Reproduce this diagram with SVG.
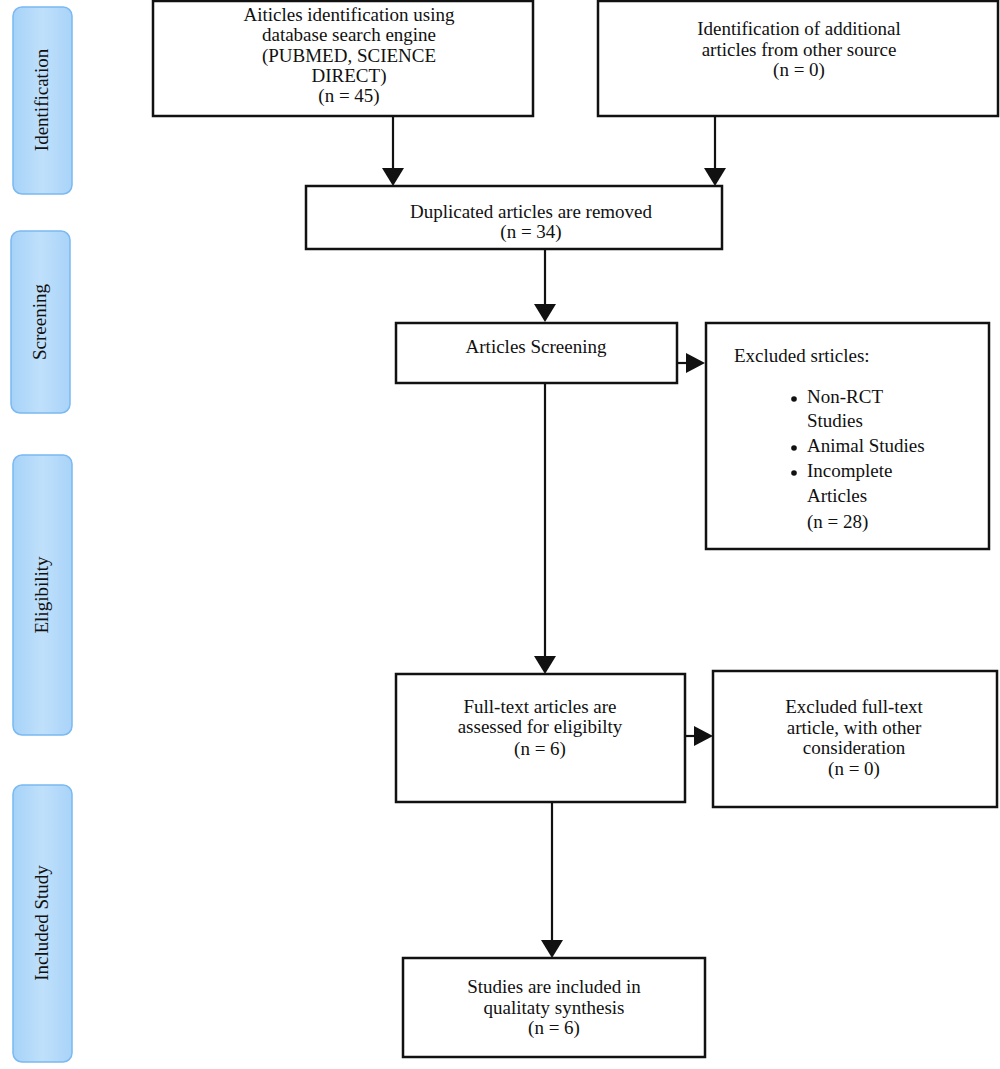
<svg xmlns="http://www.w3.org/2000/svg" width="1000" height="1069" viewBox="0 0 1000 1069">
<defs>
<linearGradient id="bar" x1="0" y1="0" x2="1" y2="0">
<stop offset="0" stop-color="#a6d2f8"/>
<stop offset="0.5" stop-color="#bfe0fb"/>
<stop offset="1" stop-color="#a9d3f8"/>
</linearGradient>
</defs>
<style>
.box{fill:#fff;stroke:#111;stroke-width:2.5}
.bar{fill:url(#bar);stroke:#7ab9f1;stroke-width:1.5}
text{font-family:"Liberation Serif","Times New Roman",serif;font-size:19px;fill:#111}
.c{text-anchor:middle}
.ln{stroke:#111;stroke-width:2.2;fill:none}
.ah{fill:#111}
</style>
<rect width="1000" height="1069" fill="#fff"/>
<g id="phase-identification">
<rect class="bar" x="13" y="7" width="59" height="187" rx="9"/>
<text class="c" transform="translate(48 100) rotate(-90)">Identification</text>
</g>
<g id="phase-screening">
<rect class="bar" x="11" y="231" width="59" height="182" rx="9"/>
<text class="c" transform="translate(46 322) rotate(-90)">Screening</text>
</g>
<g id="phase-eligibility">
<rect class="bar" x="13" y="455" width="59" height="280" rx="9"/>
<text class="c" transform="translate(48 595) rotate(-90)">Eligibility</text>
</g>
<g id="phase-included">
<rect class="bar" x="13" y="785" width="59" height="277" rx="9"/>
<text class="c" transform="translate(48 923) rotate(-90)">Included Study</text>
</g>
<g id="connectors">
<line class="ln" x1="393" y1="116" x2="393" y2="170"/>
<polygon class="ah" points="382,168 404,168 393,186"/>
<line class="ln" x1="715" y1="116" x2="715" y2="170"/>
<polygon class="ah" points="704,168 726,168 715,186"/>
<line class="ln" x1="545" y1="249" x2="545" y2="306"/>
<polygon class="ah" points="534,304 556,304 545,322"/>
<line class="ln" x1="545" y1="383" x2="545" y2="658"/>
<polygon class="ah" points="534,656 556,656 545,674"/>
<line class="ln" x1="552" y1="802" x2="552" y2="942"/>
<polygon class="ah" points="541,940 563,940 552,958"/>
<line class="ln" x1="677" y1="363" x2="688" y2="363"/>
<polygon class="ah" points="686,353 686,373 705,363"/>
<line class="ln" x1="685" y1="736" x2="696" y2="736"/>
<polygon class="ah" points="694,726 694,746 713,736"/>
</g>
<g id="box-database">
<rect class="box" x="153" y="1" width="380" height="115"/>
<text class="c" x="349" y="21">Aiticles identification using</text>
<text class="c" x="349" y="41">database search engine</text>
<text class="c" x="349" y="62">(PUBMED, SCIENCE</text>
<text class="c" x="349" y="82">DIRECT)</text>
<text class="c" x="349" y="102">(n = 45)</text>
</g>
<g id="box-other">
<rect class="box" x="598" y="1" width="400" height="115"/>
<text class="c" x="799" y="35">Identification of additional</text>
<text class="c" x="799" y="56">articles from other source</text>
<text class="c" x="799" y="76">(n = 0)</text>
</g>
<g id="box-duplicated">
<rect class="box" x="306" y="186" width="416" height="63"/>
<text class="c" x="531" y="218">Duplicated articles are removed</text>
<text class="c" x="531" y="238">(n = 34)</text>
</g>
<g id="box-screening">
<rect class="box" x="396" y="323" width="281" height="60"/>
<text class="c" x="536" y="353">Articles Screening</text>
</g>
<g id="box-excluded">
<rect class="box" x="706" y="323" width="283" height="226"/>
<text x="734" y="362">Excluded srticles:</text>
<circle cx="794" cy="399" r="2.8" fill="#111"/>
<circle cx="794" cy="448" r="2.8" fill="#111"/>
<circle cx="794" cy="473" r="2.8" fill="#111"/>
<text x="807" y="403">Non-RCT</text>
<text x="807" y="427">Studies</text>
<text x="807" y="452">Animal Studies</text>
<text x="807" y="477">Incomplete</text>
<text x="807" y="502">Articles</text>
<text x="807" y="528">(n = 28)</text>
</g>
<g id="box-fulltext">
<rect class="box" x="396" y="674" width="289" height="128"/>
<text class="c" x="540" y="713">Full-text articles are</text>
<text class="c" x="540" y="733">assessed for eligibilty</text>
<text class="c" x="540" y="755">(n = 6)</text>
</g>
<g id="box-excluded-fulltext">
<rect class="box" x="713" y="671" width="284" height="136"/>
<text class="c" x="854" y="713">Excluded full-text</text>
<text class="c" x="854" y="734">article, with other</text>
<text class="c" x="854" y="754">consideration</text>
<text class="c" x="854" y="775">(n = 0)</text>
</g>
<g id="box-included">
<rect class="box" x="403" y="958" width="302" height="99"/>
<text class="c" x="554" y="993">Studies are included in</text>
<text class="c" x="554" y="1014">qualitaty synthesis</text>
<text class="c" x="554" y="1034">(n = 6)</text>
</g>
</svg>
